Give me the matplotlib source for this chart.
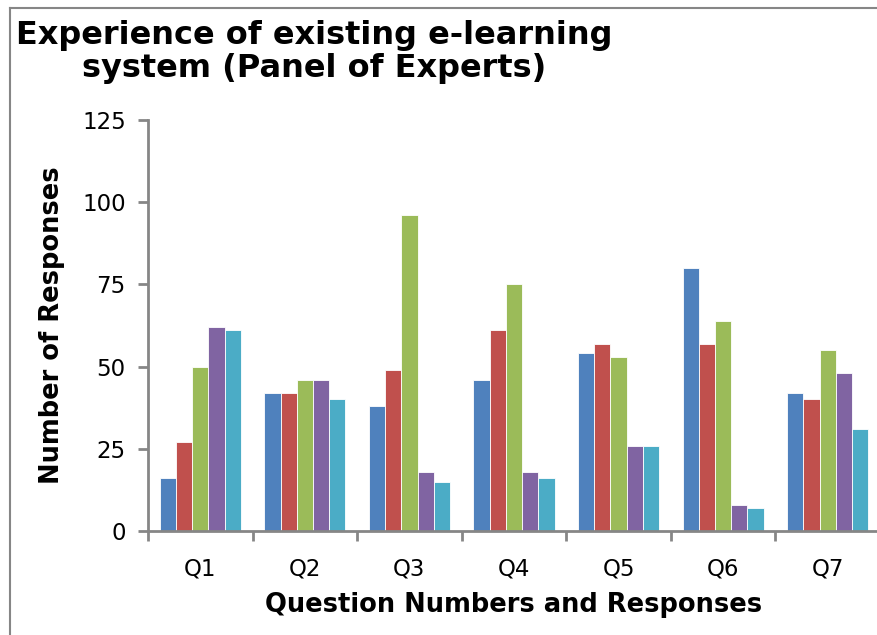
import matplotlib.pyplot as plt
import numpy as np
from matplotlib.lines import Line2D

# Question categories and the five response series
questions = ['Q1', 'Q2', 'Q3', 'Q4', 'Q5', 'Q6', 'Q7']
resp1 = [16, 42, 38, 46, 54, 80, 42]
resp2 = [27, 42, 49, 61, 57, 57, 40]
resp3 = [50, 46, 96, 75, 53, 64, 55]
resp4 = [62, 46, 18, 18, 26, 8, 48]
resp5 = [61, 40, 15, 16, 26, 7, 31]

colors = ['#4F81BD', '#C0504D', '#9BBB59', '#8064A2', '#4BACC6']
series = [resp1, resp2, resp3, resp4, resp5]

W, H = 877, 635
fig = plt.figure(figsize=(W / 100, H / 100), dpi=100)
ax = fig.add_axes([148 / W, 1 - 531 / H, (880 - 148) / W, (531 - 120) / H])

x = np.arange(len(questions))
bw = 0.155
for i, (vals, c) in enumerate(zip(series, colors)):
    ax.bar(x + (i - 2) * bw, vals, width=bw, color=c, edgecolor='white', linewidth=0.6)

gray = '#868686'
ax.set_xlim(-0.5, len(questions) - 0.5)
ax.set_ylim(0, 125)
ax.set_yticks([0, 25, 50, 75, 100, 125])
ax.set_xticks(x)
ax.set_xticklabels(questions)
ax.set_xticks(np.arange(-0.5, len(questions), 1), minor=True)
ax.tick_params(axis='x', which='major', length=0, labelsize=16.5, pad=19)
ax.tick_params(axis='x', which='minor', length=7, width=2, color=gray)
ax.tick_params(axis='y', length=7, width=2, color=gray, labelsize=16.5, pad=9)

for s in ['top', 'right']:
    ax.spines[s].set_visible(False)
for s in ['left', 'bottom']:
    ax.spines[s].set_color(gray)
    ax.spines[s].set_linewidth(2)

ax.set_xlabel('Question Numbers and Responses', fontsize=18.5, fontweight='bold', labelpad=8)
ax.set_ylabel('Number of Responses', fontsize=18.5, fontweight='bold', labelpad=12)

fig.text(314 / W, 1 - 52 / H, 'Experience of existing e-learning\nsystem (Panel of Experts)',
         ha='center', va='center', fontsize=23, fontweight='bold', linespacing=1.1)

# outer frame (left and top edges visible in the reference)
fig.add_artist(Line2D([10 / W, 10 / W], [0, 1 - 8 / H], transform=fig.transFigure, color=gray, lw=1.5))
fig.add_artist(Line2D([10 / W, 1], [1 - 8 / H, 1 - 8 / H], transform=fig.transFigure, color=gray, lw=1.5))

fig.savefig('out.png', dpi=100)
